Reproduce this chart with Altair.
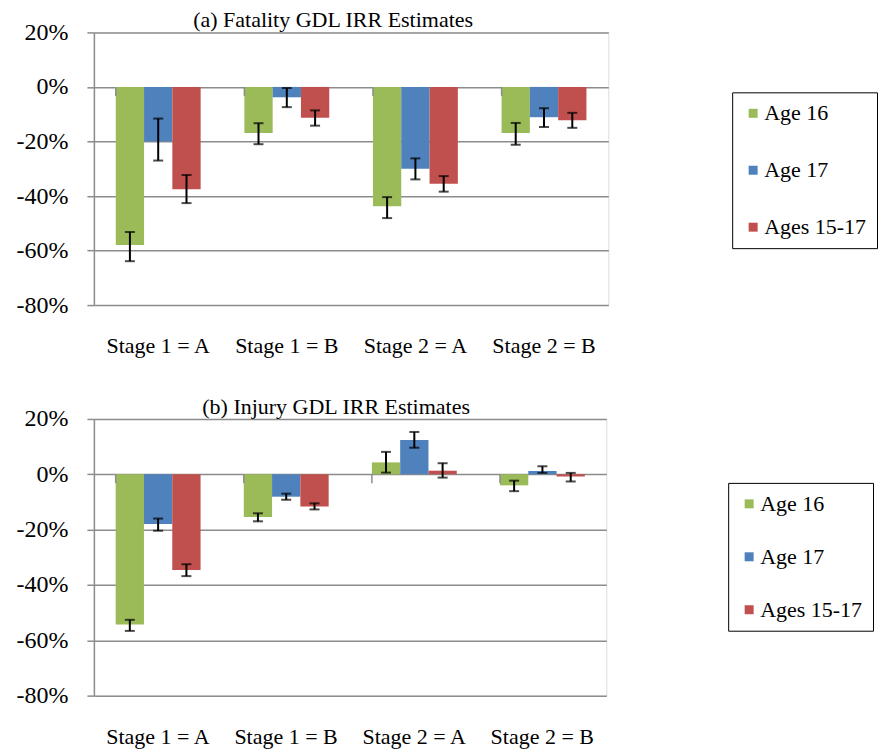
import altair as alt
import pandas as pd

categories = ["Stage 1 = A", "Stage 1 = B", "Stage 2 = A", "Stage 2 = B"]
series = ["Age 16", "Age 17", "Ages 15-17"]
colors = ["#9BBB59", "#4F81BD", "#C0504D"]

# (a) Fatality GDL IRR estimates (percent)
fat_val = {
    "Age 16": [-58.0, -16.9, -43.8, -16.9],
    "Age 17": [-20.0, -3.8, -30.0, -11.1],
    "Ages 15-17": [-37.5, -11.3, -35.5, -12.2],
}
fat_lo = {
    "Age 16": [-63.9, -21.0, -48.1, -21.2],
    "Age 17": [-27.0, -7.4, -33.9, -14.7],
    "Ages 15-17": [-42.6, -14.2, -38.4, -15.0],
}
fat_hi = {
    "Age 16": [-53.2, -13.3, -40.4, -13.2],
    "Age 17": [-11.6, -0.4, -26.2, -7.8],
    "Ages 15-17": [-32.3, -8.6, -32.7, -9.5],
}

# (b) Injury GDL IRR estimates (percent)
inj_val = {
    "Age 16": [-54.3, -15.4, 4.3, -4.0],
    "Age 17": [-18.0, -8.1, 12.4, 1.2],
    "Ages 15-17": [-34.6, -11.6, 1.3, -0.8],
}
inj_lo = {
    "Age 16": [-56.6, -17.0, 0.6, -6.1],
    "Age 17": [-20.4, -9.2, 9.6, 0.5],
    "Ages 15-17": [-36.8, -12.7, -1.2, -2.6],
}
inj_hi = {
    "Age 16": [-52.6, -14.1, 8.1, -2.3],
    "Age 17": [-16.0, -7.0, 15.3, 2.9],
    "Ages 15-17": [-32.5, -10.5, 4.0, 0.5],
}

y_ticks = [20, 0, -20, -40, -60, -80]

FONT = "Liberation Serif"


def make_df(val, lo, hi):
    rows = []
    for s in series:
        for i, c in enumerate(categories):
            rows.append({"cat": c, "series": s, "v": val[s][i], "lo": lo[s][i], "hi": hi[s][i]})
    return pd.DataFrame(rows)


def panel(df, title, width, height, title_dx, legend_x, legend_y, row_pad, label_pad):
    x = alt.X("cat:N", sort=categories,
              scale=alt.Scale(paddingInner=0.34, paddingOuter=0.17),
              axis=alt.Axis(title=None, ticks=False, domain=False, labelAngle=0,
                            labelFont=FONT, labelFontSize=22, labelColor="black",
                            labelPadding=label_pad, grid=False))
    xo = alt.XOffset("series:N", sort=series, scale=alt.Scale(paddingInner=0, paddingOuter=0))
    y = alt.Y("v:Q", scale=alt.Scale(domain=[-80, 20], nice=False, zero=False),
              axis=alt.Axis(title=None, values=y_ticks, grid=True, gridColor="#8c8c8c",
                            gridWidth=1.5, domainColor="#8c8c8c", domainWidth=1.5,
                            tickColor="#8c8c8c", tickWidth=1.5, tickSize=7,
                            labelPadding=19, labelFont=FONT, labelFontSize=24,
                            labelColor="black",
                            labelExpr="(datum.value < 0 ? '-' : '') + abs(datum.value) + '%'"))
    color = alt.Color("series:N", sort=series,
                      scale=alt.Scale(domain=series, range=colors),
                      legend=alt.Legend(title=None, orient="none", legendX=legend_x,
                                        legendY=legend_y, strokeColor="black",
                                        padding=10, rowPadding=row_pad,
                                        symbolType="square", symbolSize=81,
                                        symbolStrokeWidth=0, labelOffset=0,
                                        labelFont=FONT, labelFontSize=22,
                                        labelColor="black"))
    base = alt.Chart(df)
    bars = base.mark_bar().encode(x=x, xOffset=xo, y=y, color=color)
    err = base.mark_rule(color="black", strokeWidth=2).encode(
        x=alt.X("cat:N", sort=categories), xOffset=alt.XOffset("series:N", sort=series),
        y="lo:Q", y2="hi:Q")
    cap_lo = base.mark_tick(color="black", thickness=2, size=10, orient="horizontal").encode(
        x=alt.X("cat:N", sort=categories), xOffset=alt.XOffset("series:N", sort=series),
        y="lo:Q")
    cap_hi = base.mark_tick(color="black", thickness=2, size=10, orient="horizontal").encode(
        x=alt.X("cat:N", sort=categories), xOffset=alt.XOffset("series:N", sort=series),
        y="hi:Q")
    cat_df = pd.DataFrame({"cat": categories})
    cat_ticks = alt.Chart(cat_df).mark_rule(color="#8c8c8c", strokeWidth=1.5, y2Offset=9).encode(
        x=alt.X("cat:N", sort=categories, bandPosition=0),
        y=alt.datum(0), y2=alt.datum(0))
    return alt.layer(bars, cat_ticks, err, cap_lo, cap_hi).properties(
        width=width, height=height,
        title=alt.TitleParams(title, font=FONT, fontSize=22, fontWeight="normal",
                              color="black", anchor="middle", dx=title_dx, offset=-12,
                              frame="group"))


top = panel(make_df(fat_val, fat_lo, fat_hi), "(a) Fatality GDL IRR Estimates",
            515, 273, -18, 639, 60, 35, 30)
bottom = panel(make_df(inj_val, inj_lo, inj_hi), "(b) Injury GDL IRR Estimates",
               513, 277, -14, 635, 64, 31, 31)

chart = alt.vconcat(top, bottom, spacing=38).resolve_legend(color="independent").resolve_scale(
    color="independent").properties(
    padding={"left": 7, "top": 0, "right": 0, "bottom": 0}
).configure_view(stroke="black", strokeWidth=1.5).configure(background="white")

chart.save("out.html", embed_options={"renderer": "svg", "actions": False})
